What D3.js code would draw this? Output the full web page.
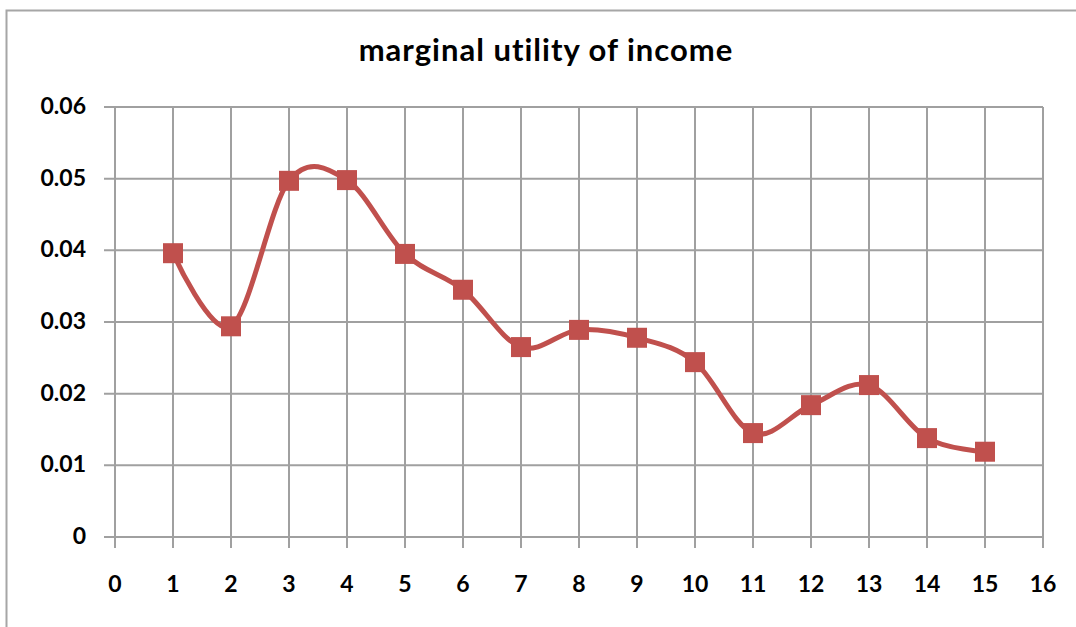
<!DOCTYPE html>
<html lang="en">
<head>
  <meta charset="UTF-8">
  <title>marginal utility of income</title>
  <script src="https://cdn.jsdelivr.net/npm/d3@7"></script>
  <style>
    body { margin: 0; background: #fff; }
    text { font-family: Lato, "Open Sans", sans-serif; font-weight: bold; fill: #000; }
  </style>
</head>
<body>
  <script>

  //Width and height
  var w = 1076;
  var h = 627;

  // data
  var income = [1, 2, 3, 4, 5, 6, 7, 8, 9, 10, 11, 12, 13, 14, 15];
  var mu = [0.0396, 0.0294, 0.0497, 0.0498, 0.0395, 0.0345, 0.0265, 0.0289,
            0.0278, 0.0244, 0.0145, 0.0184, 0.0212, 0.0138, 0.0119];
  var xTicks = d3.range(0, 17);
  var yTicks = [0, 0.01, 0.02, 0.03, 0.04, 0.05, 0.06];
  var title = "marginal utility of income";

  var dataset = income.map(function(d, i) { return { x: d, y: mu[i] }; });

  var svg = d3.select("body")
        .append("svg")
        .attr("width", w)
        .attr("height", h);

  // outer chart frame
  svg.append("rect")
    .attr("x", 6.5)
    .attr("y", 10.5)
    .attr("width", w + 20)
    .attr("height", h + 20)
    .attr("fill", "none")
    .attr("stroke", "#a6a6a6")
    .attr("stroke-width", 2);

  //Create scale functions
  var xScale = d3.scaleLinear().domain([0, 16]).range([115, 1043]);
  var yScale = d3.scaleLinear().domain([0, 0.06]).range([537, 107]);

  var gridColor = "#a0a0a0";

  // horizontal grid lines (with outward tick on the left)
  svg.append("g")
    .selectAll("line")
    .data(yTicks)
    .enter()
    .append("line")
    .attr("x1", 104)
    .attr("x2", xScale(16))
    .attr("y1", function(d) { return yScale(d); })
    .attr("y2", function(d) { return yScale(d); })
    .attr("stroke", gridColor)
    .attr("stroke-width", 2);

  // vertical grid lines (with outward tick at the bottom)
  svg.append("g")
    .selectAll("line")
    .data(xTicks)
    .enter()
    .append("line")
    .attr("x1", function(d) { return xScale(d); })
    .attr("x2", function(d) { return xScale(d); })
    .attr("y1", yScale(0.06))
    .attr("y2", 548)
    .attr("stroke", gridColor)
    .attr("stroke-width", 2);

  // y labels
  svg.append("g")
    .selectAll("text")
    .data(yTicks)
    .enter()
    .append("text")
    .attr("x", 86)
    .attr("y", function(d) { return yScale(d) + 7; })
    .attr("text-anchor", "end")
    .style("font-size", "23px")
    .text(function(d) { return d === 0 ? "0" : d3.format(".2f")(d); });

  // x labels
  svg.append("g")
    .selectAll("text")
    .data(xTicks)
    .enter()
    .append("text")
    .attr("x", function(d) { return xScale(d); })
    .attr("y", 592)
    .attr("text-anchor", "middle")
    .style("font-size", "23px")
    .text(function(d) { return d; });

  // title
  svg.append("text")
    .attr("x", 546)
    .attr("y", 61)
    .attr("text-anchor", "middle")
    .style("font-size", "31px")
    .style("letter-spacing", "1px")
    .text(title);

  // smoothed line, excel style
  var line = d3.line()
    .x(function(d) { return xScale(d.x); })
    .y(function(d) { return yScale(d.y); })
    .curve(d3.curveCardinal.tension(0));

  svg.append("path")
    .datum(dataset)
    .attr("d", line)
    .attr("fill", "none")
    .attr("stroke", "#c0504d")
    .attr("stroke-width", 5);

  // square markers
  svg.selectAll("rect.marker")
    .data(dataset)
    .enter()
    .append("rect")
    .attr("class", "marker")
    .attr("x", function(d) { return xScale(d.x) - 10; })
    .attr("y", function(d) { return yScale(d.y) - 10; })
    .attr("width", 20)
    .attr("height", 20)
    .attr("fill", "#c0504d");

  </script>
</body>
</html>
